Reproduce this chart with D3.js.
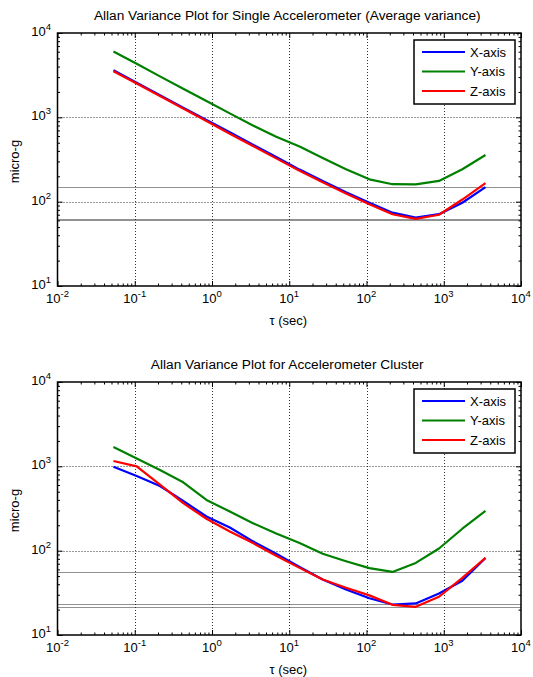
<!DOCTYPE html>
<html>
<head>
<meta charset="utf-8">
<script src="https://cdn.jsdelivr.net/npm/d3@7"></script>
<style>
body { margin: 0; background: #fff; }
text { font-family: "Liberation Sans", Arial, sans-serif; fill: #000; }
</style>
</head>
<body>
<svg></svg>
<script>
let svgWidth = 533;
let svgHeight = 677;

// averaging time tau (sec)
let tau = [0.053, 0.106, 0.212, 0.424, 0.848, 1.7, 3.39, 6.78, 13.6, 27.1, 54.3, 109, 217, 434, 868, 1740, 3470];

let seriesNames = ["X-axis", "Y-axis", "Z-axis"];

// single accelerometer (average variance), micro-g
let singleX = [3610, 2570, 1830, 1300, 930, 664, 475, 339, 240, 176, 129, 97, 74, 64.6, 71, 97, 149];
let singleY = [6050, 4310, 3060, 2180, 1560, 1114, 800, 590, 450, 330, 243, 184, 161, 160, 176, 242, 357];
let singleZ = [3510, 2520, 1790, 1270, 905, 640, 458, 326, 232, 170, 125, 93, 71, 62.5, 70, 106, 166];
let singleRef = [150, 62.5, 61];

// accelerometer cluster, micro-g
let clusterX = [988, 767, 585, 389, 254, 188, 129, 92, 64, 45.5, 34.7, 27.3, 23, 23.7, 31, 44, 82];
let clusterY = [1700, 1242, 904, 647, 400, 291, 212, 160, 123, 92, 75, 62, 56, 71.6, 106, 182, 297];
let clusterZ = [1156, 1000, 607, 366, 239, 169, 123, 87, 62.5, 45.5, 36.3, 29.5, 22.8, 21.6, 28.4, 47.7, 82];
let clusterRef = [55.5, 23, 21.3];

let xTicks = [1e-2, 1e-1, 1e0, 1e1, 1e2, 1e3, 1e4];
let xTickExp = ["-2", "-1", "0", "1", "2", "3", "4"];
let yTicks = [1e1, 1e2, 1e3, 1e4];
let yTickExp = ["1", "2", "3", "4"];

let colors = ["#0000ff", "#008000", "#ff0000"];
let plotLeft = 57.5, plotRight = 521, plotHeight = 253;

function minor_ticks(lo, hi){
    let out = [];
    for(let d = lo; d < hi; d *= 10){
        for(let m = 2; m < 10; m++){
            out.push(d * m);
        }
    }
    return out;
}

function draw_ticks(g, xScale, yScale, top, bottom){
    let xMinor = minor_ticks(1e-2, 1e4);
    let yMinor = minor_ticks(1e1, 1e4);
    let specs = [
        [d3.axisBottom(xScale), 0, bottom, xTicks, xMinor],
        [d3.axisTop(xScale), 0, top, xTicks, xMinor],
        [d3.axisLeft(yScale), plotLeft, 0, yTicks, yMinor],
        [d3.axisRight(yScale), plotRight, 0, yTicks, yMinor]
    ];
    specs.forEach(function(s){
        let major = s[0].tickValues(s[3]).tickSizeInner(-5).tickSizeOuter(0).tickFormat("");
        g.append('g').attr('transform', 'translate(' + s[1] + ',' + s[2] + ')').call(major)
            .call(a => a.select('.domain').remove());
    });
    let specs2 = [
        [d3.axisBottom(xScale), 0, bottom, xMinor],
        [d3.axisTop(xScale), 0, top, xMinor],
        [d3.axisLeft(yScale), plotLeft, 0, yMinor],
        [d3.axisRight(yScale), plotRight, 0, yMinor]
    ];
    specs2.forEach(function(s){
        let minor = s[0].tickValues(s[3]).tickSizeInner(-2.5).tickSizeOuter(0).tickFormat("");
        g.append('g').attr('transform', 'translate(' + s[1] + ',' + s[2] + ')').call(minor)
            .call(a => a.select('.domain').remove());
    });
    g.selectAll('.tick line').attr('stroke', '#000').attr('stroke-width', 1);
}

function draw_panel(svg, top, title, series, refs){
    let bottom = top + plotHeight;
    let xScale = d3.scaleLog().domain([1e-2, 1e4]).range([plotLeft, plotRight]);
    let yScale = d3.scaleLog().domain([1e1, 1e4]).range([bottom, top]);
    let g = svg.append('g');

    // grid (major decades only)
    g.selectAll('.vgrid').data(xTicks.slice(1, -1)).join('line')
        .attr('x1', d => Math.round(xScale(d)) + 0.5).attr('x2', d => Math.round(xScale(d)) + 0.5)
        .attr('y1', top).attr('y2', bottom)
        .attr('stroke', '#333').attr('stroke-width', 1).attr('stroke-dasharray', '1,2');
    g.selectAll('.hgrid').data(yTicks.slice(1, -1)).join('line')
        .attr('x1', plotLeft).attr('x2', plotRight)
        .attr('y1', d => Math.round(yScale(d)) + 0.5).attr('y2', d => Math.round(yScale(d)) + 0.5)
        .attr('stroke', '#333').attr('stroke-width', 1).attr('stroke-dasharray', '1,2');

    // reference levels
    g.selectAll('.ref').data(refs).join('line')
        .attr('x1', plotLeft).attr('x2', plotRight)
        .attr('y1', d => Math.round(yScale(d)) + 0.5).attr('y2', d => Math.round(yScale(d)) + 0.5)
        .attr('stroke', '#222').attr('stroke-width', 1).attr('stroke-dasharray', '1,1');

    let line = d3.line()
        .x(d => xScale(d[0]))
        .y(d => yScale(d[1]));

    series.forEach(function(vals, i){
        g.append('path')
            .attr('d', line(d3.zip(tau, vals)))
            .attr('fill', 'none')
            .attr('stroke', colors[i])
            .attr('stroke-width', 2.2)
            .attr('stroke-linejoin', 'round');
    });

    draw_ticks(g, xScale, yScale, top, bottom);

    g.append('rect')
        .attr('x', plotLeft).attr('y', top)
        .attr('width', plotRight - plotLeft).attr('height', plotHeight)
        .attr('fill', 'none').attr('stroke', '#000').attr('stroke-width', 1.5);

    // tick labels with superscripts
    let xl = g.selectAll('.xlab').data(xTicks).join('text')
        .attr('x', d => xScale(d)).attr('y', bottom + 17)
        .attr('text-anchor', 'middle').attr('font-size', 13);
    xl.append('tspan').text('10');
    xl.append('tspan').attr('dy', -6).attr('font-size', 9.5).text((d, i) => xTickExp[i]);

    let yl = g.selectAll('.ylab').data(yTicks).join('text')
        .attr('x', 51).attr('y', d => yScale(d) + 3)
        .attr('text-anchor', 'end').attr('font-size', 13);
    yl.append('tspan').text('10');
    yl.append('tspan').attr('dy', -6).attr('font-size', 9.5).text((d, i) => yTickExp[i]);

    g.append('text')
        .attr('x', (plotLeft + plotRight) / 2 - 2).attr('y', top - 13)
        .attr('text-anchor', 'middle').attr('font-size', 13.7)
        .text(title);

    g.append('text')
        .attr('transform', 'translate(19,' + (top + plotHeight / 2 + 2) + ') rotate(-90)')
        .attr('text-anchor', 'middle').attr('font-size', 13)
        .text('micro-g');

    g.append('text')
        .attr('x', (plotLeft + plotRight) / 2 - 1).attr('y', bottom + 39)
        .attr('text-anchor', 'middle').attr('font-size', 13)
        .text('\u03c4 (sec)');

    // legend
    let lg = g.append('g').attr('transform', 'translate(414,' + (top + 7) + ')');
    lg.append('rect').attr('width', 101).attr('height', 64)
        .attr('fill', '#fff').attr('stroke', '#000').attr('stroke-width', 1.5);
    seriesNames.forEach(function(name, i){
        let ry = 12 + i * 19.5;
        lg.append('line').attr('x1', 8).attr('x2', 51).attr('y1', ry).attr('y2', ry)
            .attr('stroke', colors[i]).attr('stroke-width', 2.2);
        lg.append('text').attr('x', 56).attr('y', ry + 4.5).attr('font-size', 13).text(name);
    });
}

let svg = d3.select('svg').attr('width', svgWidth).attr('height', svgHeight);

draw_panel(svg, 33, 'Allan Variance Plot for Single Accelerometer (Average variance)',
    [singleX, singleY, singleZ], singleRef);
draw_panel(svg, 382, 'Allan Variance Plot for Accelerometer Cluster',
    [clusterX, clusterY, clusterZ], clusterRef);
</script>
</body>
</html>
